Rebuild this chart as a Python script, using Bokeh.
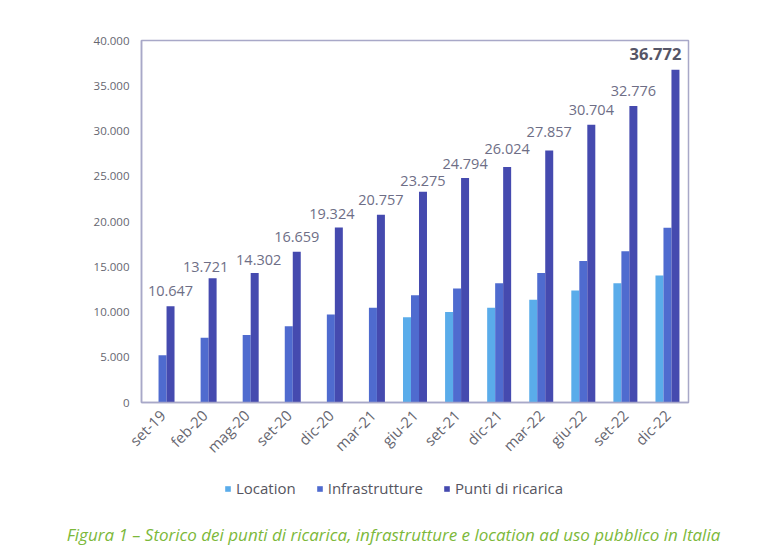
import math
from bokeh.plotting import figure
from bokeh.models import (ColumnDataSource, FactorRange, Range1d, Legend, LegendItem,
                          Label, FixedTicker)
from bokeh.transform import dodge
from bokeh.embed import file_html
from bokeh.resources import INLINE
from bokeh.core.properties import value

NaN = float("nan")

categories = ["set-19", "feb-20", "mag-20", "set-20", "dic-20", "mar-21", "giu-21",
              "set-21", "dic-21", "mar-22", "giu-22", "set-22", "dic-22"]
location = [NaN, NaN, NaN, NaN, NaN, NaN, 9420, 10000, 10480, 11350, 12380, 13170, 14020]
infrastrutture = [5230, 7150, 7450, 8420, 9720, 10470, 11850, 12600, 13180, 14300, 15640, 16720, 19320]
punti = [10647, 13721, 14302, 16659, 19324, 20757, 23275, 24794, 26024, 27857, 30704, 32776, 36772]

y_ticks = [0, 5000, 10000, 15000, 20000, 25000, 30000, 35000, 40000]
y_tick_labels = ["0", "5.000", "10.000", "15.000", "20.000", "25.000", "30.000", "35.000", "40.000"]

series_names = ["Location", "Infrastrutture", "Punti di ricarica"]
caption = "Figura 1 \u2013 Storico dei punti di ricarica, infrastrutture e location ad uso pubblico in Italia"

# label placement nudges (pixels), styling only
label_dx = [0, -7, 4, 0, -7, 0, 0, 0, 0, 0, 0, 0]
label_dy = [-15, -11, -13, -15, -14, -15, -11, -14, -18, -18, -15, -15]

FONT = "Open Sans"
C_LOC = "#5AACEA"
C_INF = "#4F6BCF"
C_PUN = "#454AAF"
AXIS_C = "#A8A8C8"
colors = [C_LOC, C_INF, C_PUN]

W = 767
H1 = 466
H2 = 82

def fmt(v):
    return f"{v:,}".replace(",", ".")

src = ColumnDataSource(dict(cat=categories, loc=location, inf=infrastrutture, pun=punti))

p = figure(x_range=FactorRange(factors=categories, range_padding=0),
           y_range=Range1d(0, 40000),
           width=W, height=H1, output_backend="svg", toolbar_location=None,
           min_border_left=141, min_border_right=W - 141 - 547, min_border_top=40,
           min_border_bottom=H1 - 409)
p.background_fill_color = "white"
p.border_fill_color = "white"
p.outline_line_color = AXIS_C
p.outline_line_width = 1.5
p.xgrid.visible = False
p.ygrid.visible = False

w = 0.19
p.vbar(x=dodge("cat", -w, range=p.x_range), top="loc", width=w, source=src,
       fill_color=C_LOC, line_color=None)
p.vbar(x=dodge("cat", 0, range=p.x_range), top="inf", width=w, source=src,
       fill_color=C_INF, line_color=None)
p.vbar(x=dodge("cat", w, range=p.x_range), top="pun", width=w, source=src,
       fill_color=C_PUN, line_color=None)

# value labels (all but the last, which is bold)
lab_src = ColumnDataSource(dict(cat=categories[:-1], pun=punti[:-1],
                                lab=[fmt(v) for v in punti[:-1]],
                                dx=label_dx, dy=label_dy))
p.text(x=dodge("cat", w, range=p.x_range), y="pun", text="lab", source=lab_src,
       text_font=value(FONT), text_font_size="14.5px", text_color="#6E6E86",
       text_align="center", text_baseline="middle", x_offset="dx", y_offset="dy")
last_src = ColumnDataSource(dict(cat=categories[-1:], pun=punti[-1:],
                                 lab=[fmt(v) for v in punti[-1:]]))
p.text(x=dodge("cat", w, range=p.x_range), y="pun", text="lab", source=last_src,
       text_font=value(FONT), text_font_size="16.5px", text_font_style="bold",
       text_color="#555566", text_align="center", text_baseline="middle",
       x_offset=-20, y_offset=-16)

# axes
p.yaxis.ticker = FixedTicker(ticks=y_ticks)
p.yaxis.major_label_overrides = {t: l for t, l in zip(y_ticks, y_tick_labels)}
for ax in (p.xaxis, p.yaxis):
    ax.axis_line_color = AXIS_C
    ax.axis_line_width = 1.5
    ax.major_tick_line_color = None
    ax.minor_tick_line_color = None
    ax.major_label_text_font = FONT
    ax.major_label_text_color = "#666670"
p.yaxis.major_label_text_font_size = "11.5px"
p.yaxis.major_label_standoff = 6
p.xaxis.major_label_text_font_size = "15px"
p.xaxis.major_label_orientation = math.pi / 4
p.xaxis.major_label_standoff = 4

# legend + caption strip (separate root, full-width frame)
q = figure(x_range=Range1d(0, W), y_range=Range1d(0, H2), width=W, height=H2,
           output_backend="svg", toolbar_location=None,
           min_border_left=0, min_border_right=0, min_border_top=0, min_border_bottom=0)
q.axis.visible = False
q.grid.visible = False
q.outline_line_color = None
q.background_fill_color = "white"
q.border_fill_color = "white"
dummy = ColumnDataSource(dict(x=[-100], top=[0]))
rs = [q.vbar(x="x", top="top", width=1, source=dummy, fill_color=c, line_color=None)
      for c in colors]
legend = Legend(items=[LegendItem(label=n, renderers=[r]) for n, r in zip(series_names, rs)],
                location=(224, 50), orientation="horizontal",
                glyph_width=7, glyph_height=7, spacing=20, padding=0, margin=0,
                label_standoff=5, label_text_font=FONT, label_text_font_size="15px",
                label_text_color="#555560", border_line_color=None,
                background_fill_alpha=0)
q.add_layout(legend)
q.add_layout(Label(x=393, y=H2 - 68, x_units="screen", y_units="screen", text=caption,
                   text_font=FONT, text_font_size="17px", text_font_style="italic",
                   text_color="#7CB83A", text_align="center", text_baseline="middle"))

open("out.html", "w").write(file_html([p, q], INLINE))
